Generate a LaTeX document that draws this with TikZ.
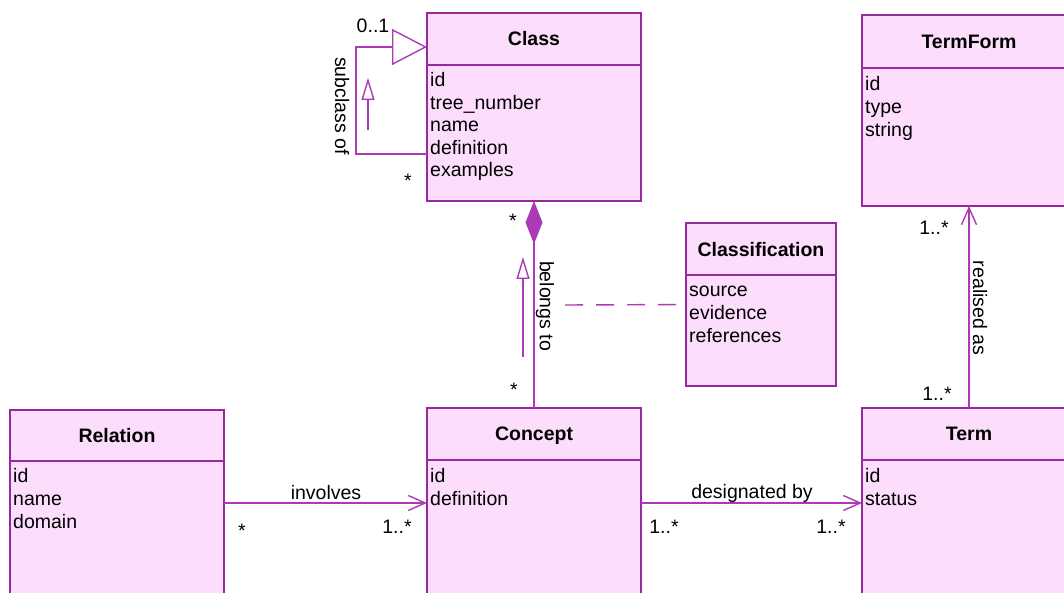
\documentclass[tikz,border=0pt]{standalone}
\usepackage{fontspec}
\setmainfont{Liberation Sans}
\usetikzlibrary{arrows.meta,calc}
\definecolor{umlborder}{RGB}{150,40,160}
\definecolor{umlline}{RGB}{172,58,182}
\definecolor{umlfill}{RGB}{252,222,252}
\begin{document}
\begin{tikzpicture}[x=1pt,y=-1pt,
  classbox/.style={draw=umlborder, fill=umlfill, line width=1.4pt, rectangle,
    anchor=north west, inner sep=0pt, outer sep=0pt, minimum width=214pt},
  divider/.style={draw=umlborder, line width=1.4pt},
  titletext/.style={font=\fontsize{19.5}{22}\selectfont\bfseries, anchor=base, inner sep=0pt},
  attr/.style={font=\fontsize{19.5}{22}\selectfont, anchor=base west, inner sep=0pt},
  mult/.style={font=\fontsize{19.5}{22}\selectfont, anchor=base, inner sep=0pt},
  vlabel/.style={font=\fontsize{19.5}{22}\selectfont, rotate=-90, inner sep=0pt},
  assoc/.style={draw=umlline, line width=1.4pt},
  navarrow/.style={assoc, -{Straight Barb[length=17pt,width=15pt,line width=1.4pt]}},
  dirarrow/.style={assoc, -{Triangle[open,length=22pt,width=13pt,line width=1.4pt]}},
  genarrow/.style={assoc, -{Triangle[open,length=35pt,width=36pt,line width=1.4pt]}},
  comp/.style={assoc, -{Diamond[length=43pt,width=17pt]}},
  dashline/.style={assoc, dash pattern=on 18pt off 13pt}
]
\useasboundingbox (0,0) rectangle (1064,593);
\clip (0,0) rectangle (1064,593);

% ---- Class ----
\node[classbox, minimum height=188pt] (class) at (427,13) {};
\draw[divider] ([yshift=-52pt]class.north west) -- ([yshift=-52pt]class.north east);
\node[titletext] (classT) at ([yshift=-33pt]class.north) {Class};
\foreach \t [count=\i] in {id,tree\_number,name,definition,examples}
  \node[attr] (classA\i) at (430,{87+(\i-1)*22.5}) {\t};

% ---- TermForm ----
\node[classbox, minimum height=191pt] (termform) at (862,15) {};
\draw[divider] ([yshift=-53pt]termform.north west) -- ([yshift=-53pt]termform.north east);
\node[titletext] (termformT) at ([yshift=-34pt]termform.north) {TermForm};
\foreach \t [count=\i] in {id,type,string}
  \node[attr] (termformA\i) at (865,{91+(\i-1)*22.75}) {\t};

% ---- Classification ----
\node[classbox, minimum width=150pt, minimum height=163pt] (classification) at (686,223) {};
\draw[divider] ([yshift=-52pt]classification.north west) -- ([yshift=-52pt]classification.north east);
\node[titletext] (classificationT) at ([yshift=-34pt]classification.north) {Classification};
\foreach \t [count=\i] in {source,evidence,references}
  \node[attr] (classificationA\i) at (689,{297+(\i-1)*22.5}) {\t};

% ---- Relation ----
\node[classbox, minimum height=200pt] (relation) at (10,410) {};
\draw[divider] ([yshift=-51pt]relation.north west) -- ([yshift=-51pt]relation.north east);
\node[titletext] (relationT) at ([yshift=-32pt]relation.north) {Relation};
\foreach \t [count=\i] in {id,name,domain}
  \node[attr] (relationA\i) at (13,{482+(\i-1)*23}) {\t};

% ---- Concept ----
\node[classbox, minimum height=200pt] (concept) at (427,408) {};
\draw[divider] ([yshift=-52pt]concept.north west) -- ([yshift=-52pt]concept.north east);
\node[titletext] (conceptT) at ([yshift=-32pt]concept.north) {Concept};
\foreach \t [count=\i] in {id,definition}
  \node[attr] (conceptA\i) at (430,{482+(\i-1)*23}) {\t};

% ---- Term ----
\node[classbox, minimum height=200pt] (term) at (862,408) {};
\draw[divider] ([yshift=-52pt]term.north west) -- ([yshift=-52pt]term.north east);
\node[titletext] (termT) at ([yshift=-32pt]term.north) {Term};
\foreach \t [count=\i] in {id,status}
  \node[attr] (termA\i) at (865,{482+(\i-1)*23}) {\t};

% ---- subclass of (self association) ----
\draw[genarrow] ([yshift=-141pt]class.north west) -- ++(-71,0) |- ([yshift=-34pt]class.north west);
\node[mult] (subM1) at (373,33) {0..1};
\node[mult] (subM2) at (408,188) {*};
\node[vlabel] (subL) at (342,106) {subclass of};
\coordinate (subDirA) at (368,130);
\coordinate (subDirB) at (368,78);
\draw[dirarrow] (subDirA) -- (subDirB);

% ---- belongs to (composition) ----
\draw[comp] (concept.north) -- (class.south);
\node[mult] (belM1) at (513,228) {*};
\node[mult] (belM2) at (514,396) {*};
\node[vlabel] (belL) at (545,306) {belongs to};
\coordinate (belDirA) at (523,357);
\coordinate (belDirB) at (523,257);
\draw[dirarrow] (belDirA) -- (belDirB);
\coordinate (assocPt) at (565,305);
\draw[dashline] (assocPt) -- (classification.west);

% ---- realised as ----
\draw[navarrow] (term.north) -- (termform.south);
\node[mult] (reaM1) at (934,235) {1..*};
\node[mult] (reaM2) at (937,400) {1..*};
\node[vlabel] (reaL) at (980,308) {realised as};

% ---- involves ----
\draw[navarrow] ([yshift=-93pt]relation.north east) -- ([yshift=-95pt]concept.north west);
\node[mult] (invL) at (326,499) {involves};
\node[mult] (invM1) at (242,537) {*};
\node[mult] (invM2) at (397,533) {1..*};

% ---- designated by ----
\draw[navarrow] ([yshift=-95pt]concept.north east) -- ([yshift=-95pt]term.north west);
\node[mult] (desL) at (752,498) {designated by};
\node[mult] (desM1) at (664,533) {1..*};
\node[mult] (desM2) at (831,533) {1..*};
\end{tikzpicture}
\end{document}
